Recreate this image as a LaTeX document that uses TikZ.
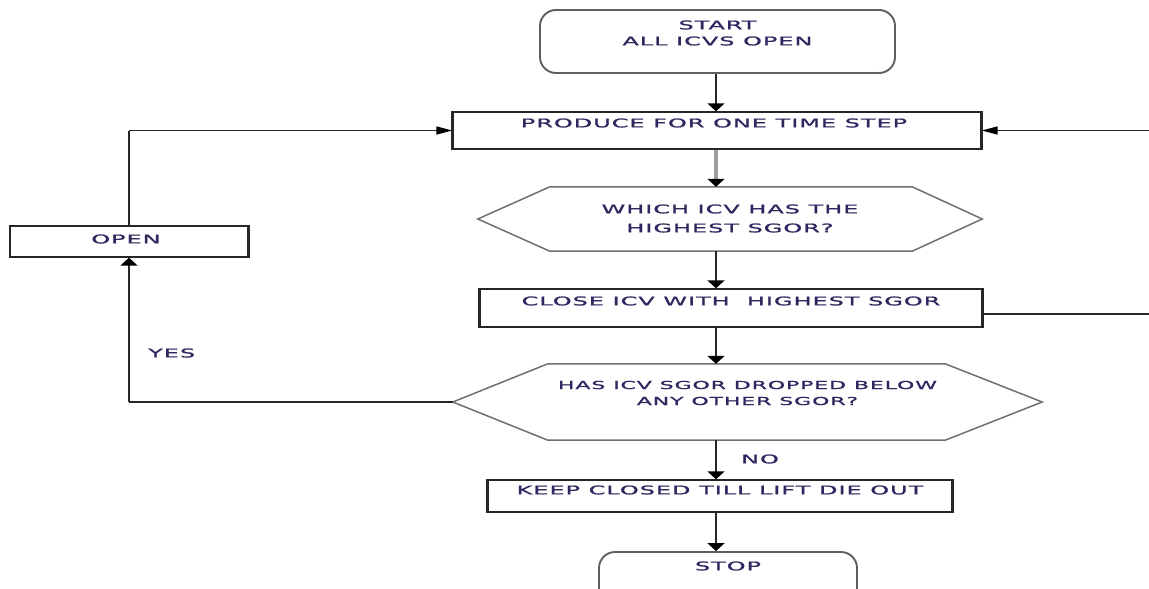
\documentclass[tikz,border=0pt]{standalone}
\usepackage{fontspec}
\newfontfamily\dfont{DejaVu Sans}[FakeStretch=2.0,LetterSpace=8,FakeBold=1.2]
\usetikzlibrary{arrows.meta,calc}
\definecolor{txtc}{RGB}{45,40,95}
\definecolor{linec}{RGB}{38,38,38}
\definecolor{hexc}{RGB}{112,112,112}
\definecolor{rboxc}{RGB}{95,95,95}
\begin{document}
\begin{tikzpicture}[x=1pt,y=-1pt,
  txt/.style={font=\dfont\fontsize{12}{16}\selectfont, text=txtc, inner sep=0pt, align=center},
  txtsmall/.style={font=\dfont\fontsize{11}{16}\selectfont, text=txtc, inner sep=0pt, align=center},
  boxst/.style={draw=linec, line width=1.4pt, inner sep=0pt},
  rboxst/.style={draw=rboxc, line width=1.9pt, rounded corners=16pt, inner sep=0pt},
  hexnode/.style={inner sep=0pt},
  hexst/.style={draw=hexc, line width=1.5pt, line join=miter},
  sidest/.style={draw=linec, line width=2.6pt},
  vline/.style={draw=linec, line width=2.4pt},
  hline/.style={draw=linec, line width=1.5pt},
  grayshaft/.style={draw=gray!75, line width=4pt},
  vtip/.tip={Triangle[length=8pt,width=17pt,color=black]},
  htip/.tip={Triangle[length=16pt,width=8pt,color=black]}
]
\fill[white] (0,0) rectangle (1149,589);
\useasboundingbox (0,0) rectangle (1149,589);

\coordinate (spine) at (716,0);
\coordinate (rloop) at (1168,314);

% nodes
\node[rboxst, minimum width=355pt, minimum height=63pt,
  label={[txt,name=start-t,yshift=8.5pt]center:START\\ALL ICVS OPEN}] (start) at (717.5,41.5) {};
\node[boxst, minimum width=528pt, minimum height=37pt,
  label={[txt,name=produce-t,xshift=-3pt,yshift=7.5pt]center:PRODUCE FOR ONE TIME STEP}] (produce) at (717,130.5) {};
\node[hexnode, minimum width=504pt, minimum height=64pt,
  label={[txt,name=h1-t,yshift=0.5pt]center:WHICH ICV HAS THE\\[3pt]HIGHEST SGOR?}] (h1) at (730,219) {};
\node[boxst, minimum width=502pt, minimum height=38pt,
  label={[txt,name=close-t,yshift=7pt]center:CLOSE ICV WITH \ HIGHEST SGOR}] (close) at (731,308) {};
\node[hexnode, minimum width=589pt, minimum height=76pt,
  label={[txtsmall,name=h2-t,yshift=9pt]center:HAS ICV SGOR DROPPED BELOW\\ANY OTHER SGOR?}] (h2) at (747.5,402) {};
\node[boxst, minimum width=464pt, minimum height=32pt,
  label={[txt,name=keep-t,yshift=6pt]center:KEEP CLOSED TILL LIFT DIE OUT}] (keep) at (720,496) {};
\node[rboxst, minimum width=258pt, minimum height=60pt,
  label={[txt,name=stop-t,yshift=16pt]center:STOP}] (stop) at (728,582) {};
\node[boxst, minimum width=237pt, minimum height=31pt,
  label={[txt,name=open-t,xshift=-3pt,yshift=2.5pt]center:OPEN}] (open) at (129,241.5) {};

\node[txt, anchor=west] (yes) at (148,353) {YES};
\node[txt] (no) at (760,459) {NO};

% thicker side edges of the rectangles
\foreach \n in {produce,close,keep,open}
  \draw[sidest] (\n.north west) -- (\n.south west) (\n.north east) -- (\n.south east);

% hexagons
\draw[hexst] (h1.west) -- ($(h1.north west)+(72,0)$) -- ($(h1.north east)+(-70,0)$)
  -- (h1.east) -- ($(h1.south east)+(-70,0)$) -- ($(h1.south west)+(72,0)$) -- cycle;
\draw[hexst] (h2.west) -- ($(h2.north west)+(95,0)$) -- ($(h2.north east)+(-97,0)$)
  -- (h2.east) -- ($(h2.south east)+(-97,0)$) -- ($(h2.south west)+(95,0)$) -- cycle;

% main spine
\draw[vline,-{vtip}] (start.south -| spine) -- (produce.north -| spine);
\draw[grayshaft,-{vtip}] (produce.south -| spine) -- (h1.north -| spine);
\draw[vline,-{vtip}] (h1.south -| spine) -- (close.north -| spine);
\draw[vline,-{vtip}] (close.south -| spine) -- (h2.north -| spine);
\draw[vline,-{vtip}] (h2.south -| spine) -- (keep.north -| spine);
\draw[vline,-{vtip}] (keep.south -| spine) -- (stop.north -| spine);

% YES loop
\draw[hline] (h2.west) -- (h2.west -| open.south);
\draw[vline,-{vtip}] (h2.west -| open.south) -- (open.south);
\draw[vline] (open.north) -- (open.north |- produce.west);
\draw[hline,-{htip}] (open.north |- produce.west) -- (produce.west);

% right loop
\draw[hline] (close.east |- rloop) -- (rloop);
\draw[vline] (rloop) -- (rloop |- produce.east);
\draw[hline,-{htip}] (rloop |- produce.east) -- (produce.east);
\end{tikzpicture}
\end{document}
